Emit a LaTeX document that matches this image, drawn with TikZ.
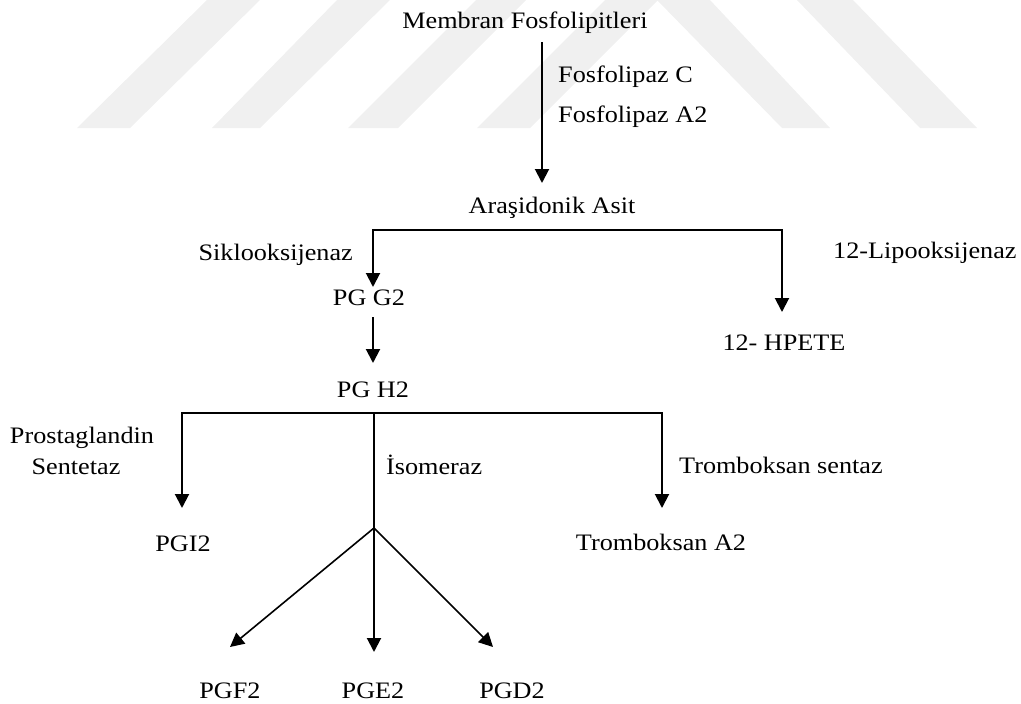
\documentclass[tikz,border=0pt]{standalone}
\usepackage{fontspec}
\setmainfont[FakeStretch=1.11]{Liberation Serif}
\usetikzlibrary{arrows.meta}
\begin{document}
\begin{tikzpicture}[x=1pt,y=-1pt,
  lbl/.style={inner sep=0pt, font=\fontsize{23.6}{28}\selectfont},
  conn/.style={line width=2pt, line cap=rect},
  arr/.style={line width=2pt, -{Triangle[width=14pt,length=14pt]}},
  thinarr/.style={line width=1.6pt, -{Triangle[width=14pt,length=14pt]}},
  wm/.style={fill=black!6, draw=none}]
\useasboundingbox (0,0) rectangle (1021,704);
% faint watermark
\fill[wm] (77,128) -- (207,0) -- (260,0) -- (130,128) -- cycle;
\fill[wm] (212,128) -- (337,0) -- (390,0) -- (260,128) -- cycle;
\fill[wm] (348,128) -- (476,0) -- (526,0) -- (398,128) -- cycle;
\fill[wm] (477,128) -- (605,0) -- (658,0) -- (530,128) -- cycle;
\fill[wm] (657,0) -- (710,0) -- (830,128) -- (782,128) -- cycle;
\fill[wm] (797,0) -- (853,0) -- (977,128) -- (920,128) -- cycle;
% labels
\node[lbl, anchor=base] (mem) at (525,28) {Membran Fosfolipitleri};
\node[lbl, anchor=base west] (fc) at (558,82) {Fosfolipaz C};
\node[lbl, anchor=base west] (fa) at (558,122) {Fosfolipaz A2};
\node[lbl, anchor=base] (ara) at (552,213) {Araşidonik Asit};
\node[lbl, anchor=base east] (sik) at (353,260) {Siklooksijenaz};
\node[lbl, anchor=base] (pgg) at (369,305) {PG G2};
\node[lbl, anchor=base west] (lip) at (833,258) {12-Lipooksijenaz};
\node[lbl, anchor=base] (hpete) at (784,350) {12- HPETE};
\node[lbl, anchor=base] (pgh) at (373,397) {PG H2};
\node[lbl, anchor=base] (pros) at (82,443) {Prostaglandin};
\node[lbl, anchor=base] (sent) at (76,474) {Sentetaz};
\node[lbl, anchor=base west] (iso) at (386,474) {İsomeraz};
\node[lbl, anchor=base west] (trs) at (679,473) {Tromboksan sentaz};
\node[lbl, anchor=base] (pgi) at (183,551) {PGI2};
\node[lbl, anchor=base] (txa) at (661,550) {Tromboksan A2};
\node[lbl, anchor=base] (pgf) at (230,698) {PGF2};
\node[lbl, anchor=base] (pge) at (373,698) {PGE2};
\node[lbl, anchor=base] (pgd) at (512,698) {PGD2};
% connector points
\coordinate (m1) at (542,42); \coordinate (m2) at (542,183);
\coordinate (aL) at (373,230); \coordinate (aR) at (782,230);
\coordinate (gT) at (373,287); \coordinate (hT) at (782,312);
\coordinate (g1) at (373,317); \coordinate (g2) at (373,363);
\coordinate (hL) at (182,413); \coordinate (hM) at (374,413); \coordinate (hR) at (662,413);
\coordinate (iT) at (182,508); \coordinate (tT) at (662,508);
\coordinate (j) at (374,528);
\coordinate (fT) at (230,647); \coordinate (eT) at (374,652); \coordinate (dT) at (493,647);
% connectors
\draw[arr] (m1) -- (m2);
\draw[conn] (aL) -- (aR);
\draw[arr] (aL) -- (gT);
\draw[arr] (aR) -- (hT);
\draw[arr] (g1) -- (g2);
\draw[conn] (hL) -- (hR);
\draw[arr] (hL) -- (iT);
\draw[arr] (hR) -- (tT);
\draw[conn] (hM) -- (j);
\draw[thinarr] (j) -- (fT);
\draw[arr] (j) -- (eT);
\draw[thinarr] (j) -- (dT);
\end{tikzpicture}
\end{document}
